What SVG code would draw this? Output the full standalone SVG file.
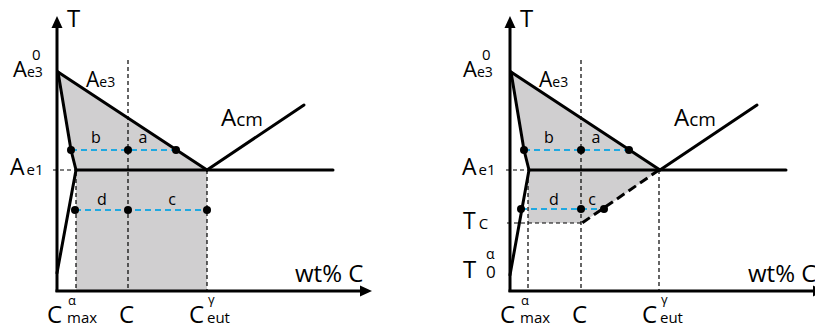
<svg xmlns="http://www.w3.org/2000/svg" width="815" height="330" viewBox="0 0 815 330">
<defs>
<style>
.bg{fill:#ffffff}
.fill{fill:#d0cfd0;stroke:none}
.thick{fill:none;stroke:#000;stroke-width:3;stroke-linecap:round;stroke-linejoin:round}
.axis{fill:none;stroke:#000;stroke-width:3}
.thickdash{fill:none;stroke:#000;stroke-width:3;stroke-dasharray:9 5}
.thin{fill:none;stroke:#000;stroke-width:1.2;stroke-dasharray:4 3}
.blue{fill:none;stroke:#1fa8e0;stroke-width:2;stroke-dasharray:6 4}
.dot{fill:#000}
text{font-family:"Open Sans","Liberation Sans",sans-serif;fill:#000}
.lab{font-size:16px}
.cx{font-size:24px}
.sub{font-size:15px}
.gr{font-size:13px}
</style>
<marker id="arr" viewBox="0 0 12 12" refX="1" refY="6" markerWidth="12" markerHeight="12" markerUnits="userSpaceOnUse" orient="auto">
<path d="M0,0.5 L12,6 L0,11.5 Z" fill="#000"/>
</marker>
</defs>
<rect class="bg" x="0" y="0" width="815" height="330"/>

<g id="left-diagram">
 <g id="left-regions">
  <polygon class="fill" points="58,72 207,170 76,170"/>
  <rect class="fill" x="76" y="170" width="131" height="121"/>
 </g>
 <g id="left-connectors">
  <line class="thin" x1="128" y1="60" x2="128" y2="290"/>
  <line class="thin" x1="207" y1="170" x2="207" y2="290"/>
  <line class="thin" x1="76" y1="172" x2="76" y2="290"/>
  <line class="thin" x1="53" y1="170" x2="76" y2="170"/>
  <line class="blue" x1="71" y1="150" x2="176" y2="150"/>
  <line class="blue" x1="75" y1="210" x2="207" y2="210"/>
  <polyline class="thick" points="58,72 71,150 76,170 57,273"/>
  <line class="thick" x1="58" y1="72" x2="207" y2="170"/>
  <line class="thick" x1="76" y1="170" x2="333" y2="170"/>
  <line class="thick" x1="207" y1="170" x2="304" y2="105"/>
  <line class="axis" x1="57" y1="292" x2="57" y2="27" marker-end="url(#arr)"/>
  <line class="axis" x1="55.5" y1="291" x2="361" y2="291" marker-end="url(#arr)"/>
 </g>
 <g id="left-points">
  <circle class="dot" cx="71" cy="150" r="4"/>
  <circle class="dot" cx="128" cy="150" r="4"/>
  <circle class="dot" cx="176" cy="150" r="4"/>
  <circle class="dot" cx="75" cy="210" r="4"/>
  <circle class="dot" cx="128" cy="210" r="4"/>
  <circle class="dot" cx="207" cy="210" r="4"/>
 </g>
 <g id="left-labels">
  <text x="67" y="27" font-size="24">T</text>
  <text x="13" y="77" font-size="22">A<tspan font-size="14">e3</tspan></text>
  <text x="32" y="60" font-size="15">0</text>
  <text x="86" y="87" font-size="21">A<tspan font-size="14">e3</tspan></text>
  <text x="10" y="175" font-size="23">A<tspan font-size="15" dx="2">e1</tspan></text>
  <text x="221" y="126" font-size="24">A<tspan font-size="19">cm</tspan></text>
  <text class="lab" x="96" y="143" text-anchor="middle">b</text>
  <text class="lab" x="143" y="143" text-anchor="middle">a</text>
  <text class="lab" x="102" y="205" text-anchor="middle">d</text>
  <text class="lab" x="172" y="205" text-anchor="middle">c</text>
  <text x="295" y="282" font-size="24">wt% C</text>
  <text class="cx" x="47" y="323">C</text>
  <text class="gr" x="68" y="305">α</text>
  <text class="sub" x="67" y="323">max</text>
  <text class="cx" x="119" y="323">C</text>
  <text class="cx" x="189" y="323">C</text>
  <text class="gr" x="208" y="304">γ</text>
  <text class="sub" x="207" y="323">eut</text>
 </g>
</g>

<g id="right-diagram">
 <g id="right-regions">
  <polygon class="fill" points="511,72 660,170 529,170"/>
  <polygon class="fill" points="528,170 660,170 582,223 528,223"/>
 </g>
 <g id="right-connectors">
  <line class="thin" x1="581" y1="60" x2="581" y2="290"/>
  <line class="thin" x1="659" y1="170" x2="659" y2="290"/>
  <line class="thin" x1="528" y1="172" x2="528" y2="290"/>
  <line class="thin" x1="506" y1="170" x2="529" y2="170"/>
  <line class="thin" x1="507" y1="223" x2="582" y2="223"/>
  <line class="blue" x1="524" y1="150" x2="629" y2="150"/>
  <line class="blue" x1="521" y1="209" x2="604" y2="209"/>
  <polyline class="thick" points="511,72 524,150 529,170 510,275"/>
  <line class="thick" x1="511" y1="72" x2="660" y2="170"/>
  <line class="thick" x1="529" y1="170" x2="786" y2="170"/>
  <line class="thick" x1="660" y1="170" x2="757" y2="105"/>
  <line class="thickdash" x1="659" y1="170" x2="582" y2="223"/>
  <line class="axis" x1="510" y1="292" x2="510" y2="27" marker-end="url(#arr)"/>
  <line class="axis" x1="508.5" y1="291" x2="814" y2="291" marker-end="url(#arr)"/>
 </g>
 <g id="right-points">
  <circle class="dot" cx="524" cy="150" r="4"/>
  <circle class="dot" cx="581" cy="150" r="4"/>
  <circle class="dot" cx="629" cy="150" r="4"/>
  <circle class="dot" cx="521" cy="209" r="4"/>
  <circle class="dot" cx="581" cy="209" r="4"/>
  <circle class="dot" cx="604" cy="209" r="4"/>
 </g>
 <g id="right-labels">
  <text x="520" y="27" font-size="24">T</text>
  <text x="463" y="77" font-size="22">A<tspan font-size="14">e3</tspan></text>
  <text x="482" y="60" font-size="15">0</text>
  <text x="539" y="87" font-size="21">A<tspan font-size="14">e3</tspan></text>
  <text x="462" y="175" font-size="23">A<tspan font-size="15" dx="2">e1</tspan></text>
  <text x="674" y="126" font-size="24">A<tspan font-size="19">cm</tspan></text>
  <text class="lab" x="549" y="143" text-anchor="middle">b</text>
  <text class="lab" x="596" y="143" text-anchor="middle">a</text>
  <text class="lab" x="554" y="205" text-anchor="middle">d</text>
  <text class="lab" x="592" y="205" text-anchor="middle">c</text>
  <text x="463" y="229" font-size="23">T<tspan font-size="15" dx="3">C</tspan></text>
  <text x="463" y="278" font-size="24">T</text>
  <text x="486" y="259" font-size="14">α</text>
  <text x="486" y="278" font-size="17">0</text>
  <text x="748" y="282" font-size="24">wt% C</text>
  <text class="cx" x="500" y="323">C</text>
  <text class="gr" x="521" y="305">α</text>
  <text class="sub" x="520" y="323">max</text>
  <text class="cx" x="572" y="323">C</text>
  <text class="cx" x="642" y="323">C</text>
  <text class="gr" x="661" y="304">γ</text>
  <text class="sub" x="660" y="323">eut</text>
 </g>
</g>
</svg>
